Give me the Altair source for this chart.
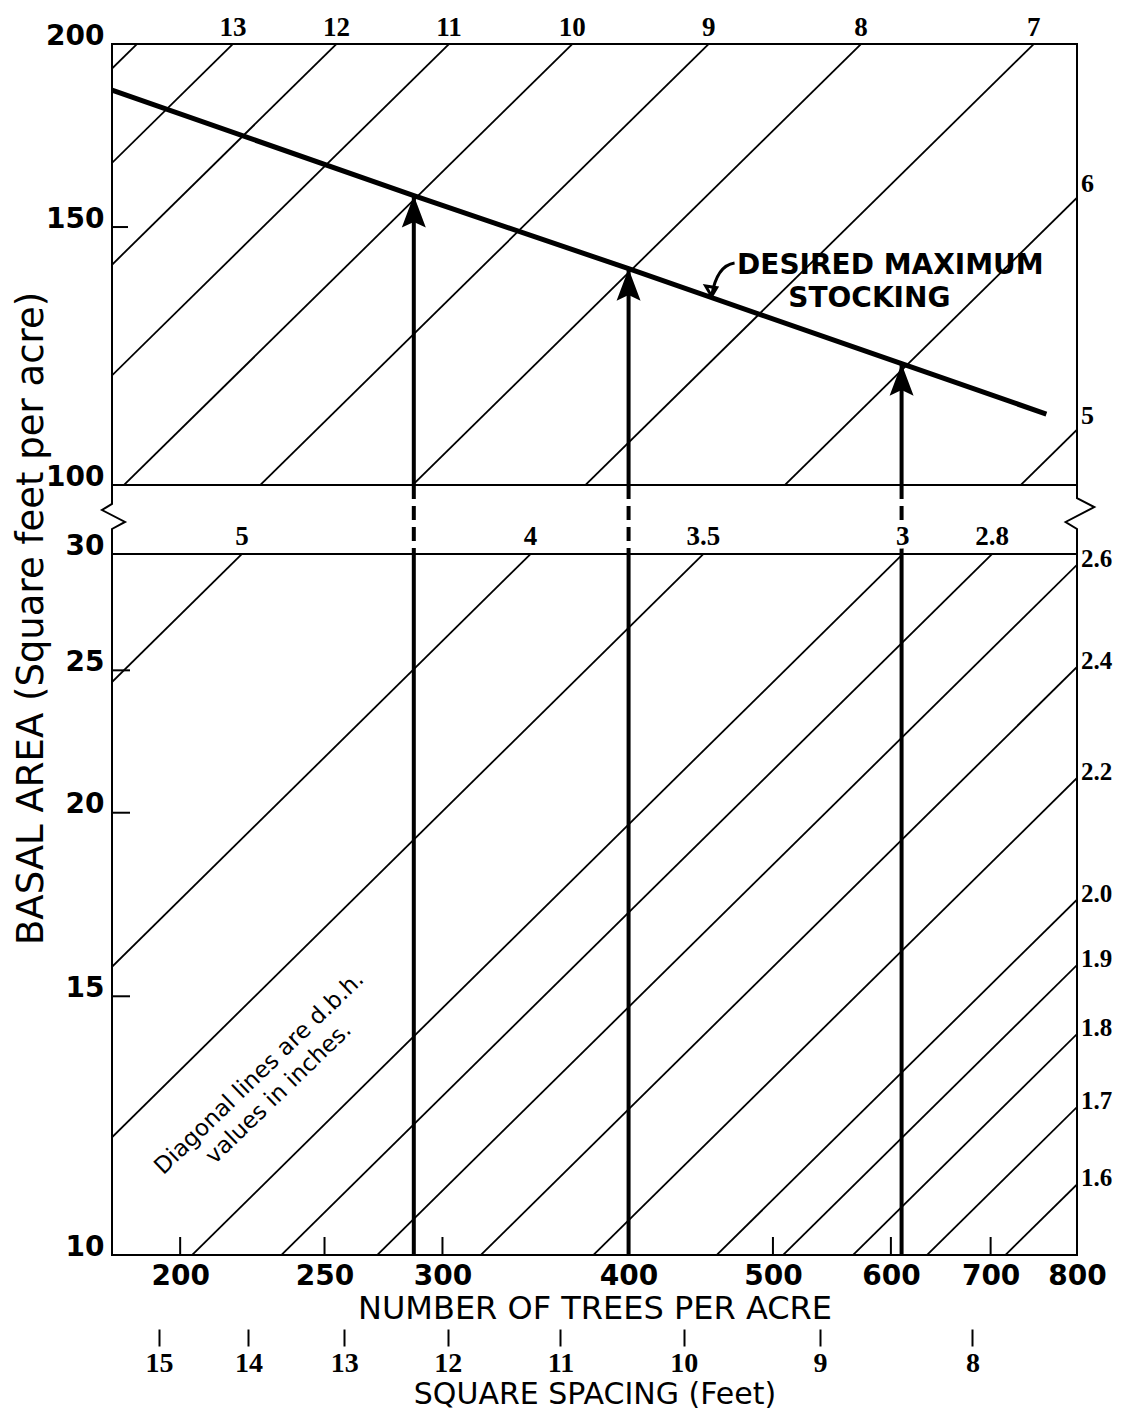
import altair as alt
import pandas as pd

# ------------------------------------------------------------------ data
K = 0.005454                      # basal area (sq ft) of one tree = K * dbh(in)^2
N_DOMAIN = [180, 800]             # number of trees per acre (log axis)
TOP_BA = [100, 200]               # upper panel basal area range
BOT_BA = [10, 30]                 # lower panel basal area range

top_dbh = [14, 13, 12, 11, 10, 9, 8, 7, 6, 5]
top_dbh_labels = ["", "13", "12", "11", "10", "9", "8", "7", "6", "5"]
bot_dbh = [5, 4, 3.5, 3, 2.8, 2.6, 2.4, 2.2, 2.0, 1.9, 1.8, 1.7, 1.6]
bot_dbh_labels = ["5", "4", "3.5", "3", "2.8", "2.6", "2.4", "2.2", "2.0",
                  "1.9", "1.8", "1.7", "1.6"]

max_n = [180, 287, 400, 610, 763]          # desired maximum stocking line
max_ba = [186, 157.6, 140.5, 121, 111.8]

arrow_n = [287, 400, 610]
arrow_ba = [157.6, 140.5, 121]

x_ticks = [200, 250, 300, 400, 500, 600, 700, 800]
top_y_ticks = [100, 150, 200]
bot_y_ticks = [10, 15, 20, 25, 30]
spacing_ft = [15, 14, 13, 12, 11, 10, 9, 8]

# ------------------------------------------------------------------ tables
def diag_table(dbh):
    rows = []
    for d in dbh:
        for n in N_DOMAIN:
            rows.append({"D": d, "N": n, "BA": K * d * d * n})
    return pd.DataFrame(rows)


def label_table(dbh, labels, ba_max):
    rows = []
    for d, lab in zip(dbh, labels):
        if not lab:
            continue
        n_top = ba_max / (K * d * d)
        if n_top <= N_DOMAIN[1]:
            rows.append({"N": n_top, "BA": ba_max, "label": lab, "pos": "top"})
        else:
            rows.append({"N": N_DOMAIN[1], "BA": K * d * d * N_DOMAIN[1],
                         "label": lab, "pos": "right"})
    return pd.DataFrame(rows)


diag_top = diag_table(top_dbh)
diag_bot = diag_table(bot_dbh)
lab_top = label_table(top_dbh, top_dbh_labels, TOP_BA[1])
lab_bot = label_table(bot_dbh, bot_dbh_labels, BOT_BA[1])
max_df = pd.DataFrame({"N": max_n, "BA": max_ba})
arrow_df = pd.DataFrame({"N": arrow_n, "BA": arrow_ba})
spacing_n = [43560.0 / (s * s) for s in spacing_ft]

# ------------------------------------------------------------------ style
SANS = "DejaVu Sans"
SERIF = "Liberation Serif"
W, H1, HG, H2, HS = 965, 441, 69, 701, 74
BLACK = "black"

ARROW = "M0,-1 L0.75,1 L0,0.65 L-0.75,1 Z"
ZIG_L = "M0,-1 L0,-0.45 L-0.29,-0.275 L0.377,0.072 L0,0.275 L0,1"
ZIG_R = "M0,-1 L0,-0.62 L0.5,-0.36 L-0.33,0.072 L0,0.275 L0,1"
LEADER = "M0.75,-1 Q-0.3,-0.85 -0.6,0.95 M-0.6,0.95 L-0.95,0.35 L-0.3,0.45 Z"

xs = alt.Scale(type="log", domain=N_DOMAIN, nice=False)

def yaxis(values, **kw):
    return alt.Axis(values=values, format="d", labelFont=SANS, labelFontSize=28,
                    labelFontWeight="bold", labelBaseline="alphabetic",
                    labelPadding=8, ticks=False, tickSize=0, domain=False,
                    grid=False, labelOverlap=False, labelFlush=False, **kw)

# ------------------------------------------------------------------ top panel
X_top = alt.X("N:Q", scale=xs, axis=None)
Y_top = alt.Y("BA:Q", scale=alt.Scale(type="log", domain=TOP_BA, nice=False),
              axis=yaxis(top_y_ticks, title=None))

top_layers = [
    alt.Chart(diag_top).mark_line(clip=True, color=BLACK, strokeWidth=1.8)
    .encode(x=X_top, y=Y_top, detail="D:N"),
    alt.Chart(max_df).mark_line(color=BLACK, strokeWidth=5)
    .encode(x=X_top, y=Y_top),
    alt.Chart(arrow_df).mark_rule(color=BLACK, strokeWidth=4)
    .encode(x=X_top, y=Y_top, y2=alt.datum(TOP_BA[0])),
    alt.Chart(arrow_df).mark_point(shape=ARROW, filled=True, size=1024, color=BLACK,
                                   opacity=1, yOffset=16, strokeWidth=0)
    .encode(x=X_top, y=Y_top),
    alt.Chart(lab_top[lab_top.pos == "top"]).mark_text(
        font=SERIF, fontWeight="bold", fontSize=27, baseline="bottom", dy=-2,
        color=BLACK).encode(x=X_top, y=Y_top, text="label:N"),
    alt.Chart(lab_top[lab_top.pos == "right"]).mark_text(
        font=SERIF, fontWeight="bold", fontSize=26, align="left", baseline="bottom",
        dx=4, dy=-1, color=BLACK).encode(x=X_top, y=Y_top, text="label:N"),
    alt.Chart(pd.DataFrame({"BA": [150]})).mark_rule(color=BLACK, strokeWidth=2)
    .encode(y=Y_top, x=alt.value(0), x2=alt.value(16)),
    alt.Chart(pd.DataFrame({"N": [473], "BA": [139.3], "t": ["DESIRED MAXIMUM"]}))
    .mark_text(font=SANS, fontWeight="bold", fontSize=28, align="left",
               baseline="alphabetic", color=BLACK)
    .encode(x=X_top, y=Y_top, text="t:N"),
    alt.Chart(pd.DataFrame({"N": [512], "BA": [132.3], "t": ["STOCKING"]}))
    .mark_text(font=SANS, fontWeight="bold", fontSize=28, align="left",
               baseline="alphabetic", color=BLACK)
    .encode(x=X_top, y=Y_top, text="t:N"),
    alt.Chart(pd.DataFrame({"N": [462], "BA": [138]}))
    .mark_point(shape=LEADER, filled=False, size=1156, color=BLACK, opacity=1,
                strokeWidth=3)
    .encode(x=X_top, y=Y_top),
]
top = alt.layer(*top_layers).properties(
    width=W, height=H1, view=alt.ViewBackground(stroke=BLACK, strokeWidth=2))

# ------------------------------------------------------------------ gap (scale break)
X_gap = alt.X("N:Q", scale=xs, axis=None)
gap = alt.layer(
    alt.Chart(arrow_df).mark_rule(color=BLACK, strokeWidth=4, strokeDash=[14, 7])
    .encode(x=X_gap),
    alt.Chart(pd.DataFrame({"N": [N_DOMAIN[0]]}))
    .mark_point(shape=ZIG_L, filled=False, size=HG * HG, color=BLACK, opacity=1,
                strokeWidth=2)
    .encode(x=X_gap, y=alt.value(HG / 2)),
    alt.Chart(pd.DataFrame({"N": [N_DOMAIN[1]]}))
    .mark_point(shape=ZIG_R, filled=False, size=HG * HG, color=BLACK, opacity=1,
                strokeWidth=2)
    .encode(x=X_gap, y=alt.value(HG / 2)),
).properties(width=W, height=HG, view=alt.ViewBackground(strokeOpacity=0))

# ------------------------------------------------------------------ bottom panel
X_bot = alt.X("N:Q", scale=xs, axis=alt.Axis(
    values=x_ticks, format="d", labelFont=SANS, labelFontSize=28,
    labelFontWeight="bold", labelPadding=7, ticks=False, tickSize=0,
    domain=False, grid=False, labelOverlap=False, labelFlush=False,
    title="NUMBER OF TREES PER ACRE", titleFont=SANS, titleFontSize=32,
    titleFontWeight="normal", titlePadding=3))
Y_bot = alt.Y("BA:Q", scale=alt.Scale(type="log", domain=BOT_BA, nice=False),
              axis=yaxis(bot_y_ticks, title="BASAL AREA (Square feet per acre)",
                         titleFont=SANS, titleFontSize=37, titleFontWeight="normal",
                         titleAngle=270, titleX=-62, titleY=64, titleAlign="center",
                         titleBaseline="bottom"))

lab_bot_top = lab_bot[lab_bot.pos == "top"]
bot_layers = [
    alt.Chart(diag_bot).mark_line(clip=True, color=BLACK, strokeWidth=1.8)
    .encode(x=X_bot, y=Y_bot, detail="D:N"),
    alt.Chart(arrow_df).mark_rule(color=BLACK, strokeWidth=4).encode(x=X_bot),
    # white knock-out behind the labels that sit on the top edge
    alt.Chart(lab_bot_top).mark_text(
        font=SERIF, fontWeight="bold", fontSize=27, baseline="bottom", dy=-3,
        color="white", stroke="white", strokeWidth=7)
    .encode(x=X_bot, y=Y_bot, text="label:N"),
    alt.Chart(lab_bot_top).mark_text(
        font=SERIF, fontWeight="bold", fontSize=27, baseline="bottom", dy=-3,
        color=BLACK).encode(x=X_bot, y=Y_bot, text="label:N"),
    alt.Chart(lab_bot[lab_bot.pos == "right"]).mark_text(
        font=SERIF, fontWeight="bold", fontSize=25, align="left", baseline="middle",
        dx=4, dy=-6, color=BLACK).encode(x=X_bot, y=Y_bot, text="label:N"),
    alt.Chart(pd.DataFrame({"BA": [15, 20, 25]})).mark_rule(color=BLACK, strokeWidth=2)
    .encode(y=Y_bot, x=alt.value(0), x2=alt.value(18)),
    alt.Chart(pd.DataFrame({"N": x_ticks})).mark_rule(color=BLACK, strokeWidth=2)
    .encode(x=X_bot, y=alt.value(H2 - 18), y2=alt.value(H2)),
    alt.Chart(pd.DataFrame({"N": [226], "BA": [13.3],
                            "t": ["Diagonal lines are d.b.h.\nvalues in inches."]}))
    .mark_text(font=SANS, fontSize=23, angle=316, align="center", baseline="middle",
               lineBreak="\n", lineHeight=28, color=BLACK)
    .encode(x=X_bot, y=Y_bot, text="t:N"),
]
bottom = alt.layer(*bot_layers).properties(
    width=W, height=H2, view=alt.ViewBackground(stroke=BLACK, strokeWidth=2))

# ------------------------------------------------------------------ square spacing axis
X_sp = alt.X("N:Q", scale=xs, axis=alt.Axis(
    values=spacing_n, labelExpr="format(sqrt(43560 / datum.value), '.0f')",
    labelFont=SERIF, labelFontSize=28, labelFontWeight="bold", labelPadding=3,
    tickSize=17, tickWidth=2, tickColor=BLACK, domain=False, grid=False,
    labelOverlap=False, labelFlush=False, title="SQUARE SPACING (Feet)",
    titleFont=SANS, titleFontSize=30, titleFontWeight="normal", titlePadding=2))
spacing = alt.Chart(pd.DataFrame({"N": spacing_n})).mark_point(opacity=0).encode(
    x=X_sp, y=alt.value(0)
).properties(width=W, height=HS, view=alt.ViewBackground(strokeOpacity=0))

# ------------------------------------------------------------------ assemble
chart = alt.vconcat(top, gap, bottom, spacing, spacing=0, bounds="flush").properties(
    padding={"left": 2, "top": 5, "right": 0, "bottom": 0},
    background="white",
).configure_axis(
    labelColor=BLACK, titleColor=BLACK,
).configure_view(stroke=BLACK, strokeWidth=2)

chart.save("out.html", embed_options={"renderer": "svg", "actions": False})
